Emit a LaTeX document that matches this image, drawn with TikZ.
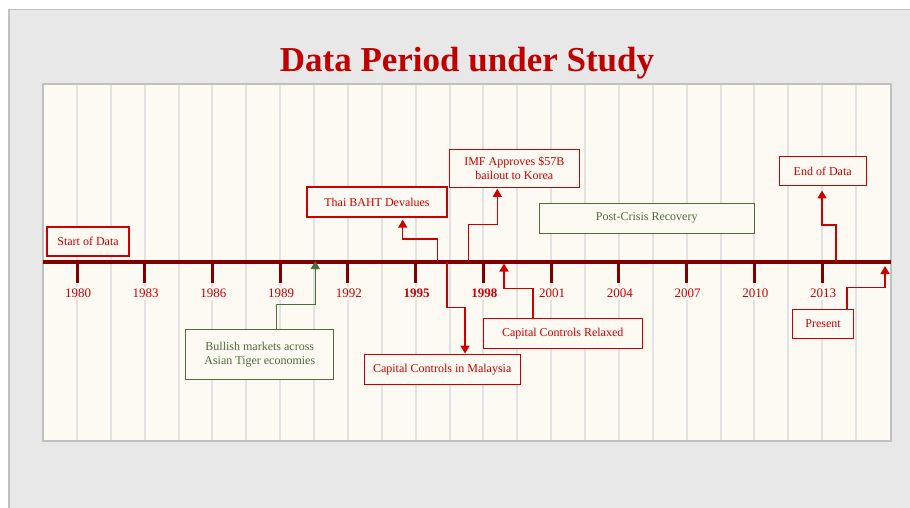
\documentclass[tikz,border=0pt]{standalone}
\usepackage{fontspec}
\setmainfont{Liberation Serif}
\usepackage{xcolor}
\usetikzlibrary{arrows.meta,positioning,calc}

\definecolor{panelgray}{HTML}{E8E8E8}
\definecolor{framegray}{HTML}{C0C0C0}
\definecolor{cream}{HTML}{FCFAF3}
\definecolor{gridgray}{HTML}{E2E2E2}
\definecolor{axisred}{HTML}{800000}
\definecolor{eventred}{HTML}{CC0000}
\definecolor{titlered}{HTML}{C00000}
\definecolor{phasegreen}{HTML}{4F6B3A}

\begin{document}
\begin{tikzpicture}[
    x=1pt, y=-1pt,
    event/.style={rectangle, draw=eventred, fill=cream, line width=1.3pt, text=eventred, align=center, font=\fontsize{12}{13.5}\selectfont, inner sep=2pt},
    phase/.style={event, draw=phasegreen, text=phasegreen},
    year/.style={fill=cream, text=eventred, font=\fontsize{13}{15}\selectfont, inner sep=2pt},
    rarrow/.style={draw=eventred, line width=1.5pt, -{Triangle[width=9pt,length=8pt]}},
    garrow/.style={rarrow, draw=phasegreen}
]
    % Canvas
    \clip (0,0) rectangle (910,507);
    \fill[white] (0,0) rectangle (910,507);
    \draw[framegray, fill=panelgray, line width=1.8pt] (9,9.5) rectangle (940,540);
    \node[font=\bfseries\fontsize{35}{40}\selectfont, text=titlered, anchor=base] (title) at (467,71.7) {Data Period under Study};
    \draw[framegray, fill=cream, line width=1.8pt] (43,84) rectangle (891,441);
    \foreach \k in {0,...,23}
        \draw[gridgray, line width=2pt] ({77+\k*33.87},85) -- ({77+\k*33.87},440);

    % Timeline
    \coordinate (axisL) at (43,262);
    \coordinate (axisR) at (891,262);
    \foreach \yr [count=\i from 0] in {1980,1983,...,2013} {
        \draw[axisred, line width=3pt] ({77+\i*67.74},262) -- ++(0,21);
        \node[year] (y\yr) at ({78+\i*67.74},293.3) {\ifnum\yr=1995 \bfseries\fi\ifnum\yr=1998 \bfseries\fi\yr};
    }
    \draw[axisred, line width=3.6pt] (axisL) -- (axisR);

    % Events
    \node[event, minimum width=82pt, minimum height=29pt] (start) at (88,241.5) {Start of Data};
    \node[event, minimum width=140pt, minimum height=30pt] (thai) at (377,202) {Thai BAHT Devalues};
    \node[event, minimum width=130pt, minimum height=38pt] (imf) at (514.3,168.2) {IMF Approves \$57B\\bailout to Korea};
    \node[event, minimum width=156pt, minimum height=30pt] (malaysia) at (442.2,369.2) {Capital Controls in Malaysia};
    \node[event, minimum width=159pt, minimum height=30pt] (relaxed) at (562.7,333.2) {Capital Controls Relaxed};
    \node[event, minimum width=87pt, minimum height=29pt] (end) at (822.7,171.3) {End of Data};
    \node[event, minimum width=61pt, minimum height=29pt] (present) at (823,324) {Present};

    % Phases
    \node[phase, minimum width=148pt, minimum height=50pt] (bullish) at (259.8,354.5) {Bullish markets across\\Asian Tiger economies};
    \node[phase, minimum width=215pt, minimum height=30pt] (recovery) at (646.7,218.3) {Post-Crisis Recovery};

    % Points on the timeline
    \coordinate (p-thai) at (437.7,262);
    \coordinate (p-imf) at (468.3,262);
    \coordinate (p-malaysia) at (447,262);
    \coordinate (p-relaxed) at (504,263.5);
    \coordinate (p-bullish) at (315.3,261);
    \coordinate (p-end) at (836,262);
    \coordinate (p-present) at (885,266);

    % Arrows
    \draw[rarrow, shorten >=2pt] (p-thai) -- ++(0,-23) -| ([xshift=25.7pt]thai.south);
    \draw[rarrow, shorten >=1pt] (p-imf) -- ++(0,-37.7) -| ([xshift=-17pt]imf.south);
    \draw[rarrow] (p-malaysia) -- ++(0,45.7) -| ([xshift=22.8pt]malaysia.north);
    \draw[rarrow] ([xshift=-29.7pt]relaxed.north) -- ++(0,-29) -| (p-relaxed);
    \draw[garrow] ([xshift=16.9pt]bullish.north) -- ++(0,-24.3) -| (p-bullish);
    \draw[rarrow, shorten >=4pt] (p-end) -- ++(0,-37) -| ([xshift=-0.7pt]end.south);
    \draw[rarrow] ([xshift=24pt]present.north) -- ++(0,-21.5) -| (p-present);
\end{tikzpicture}
\end{document}
